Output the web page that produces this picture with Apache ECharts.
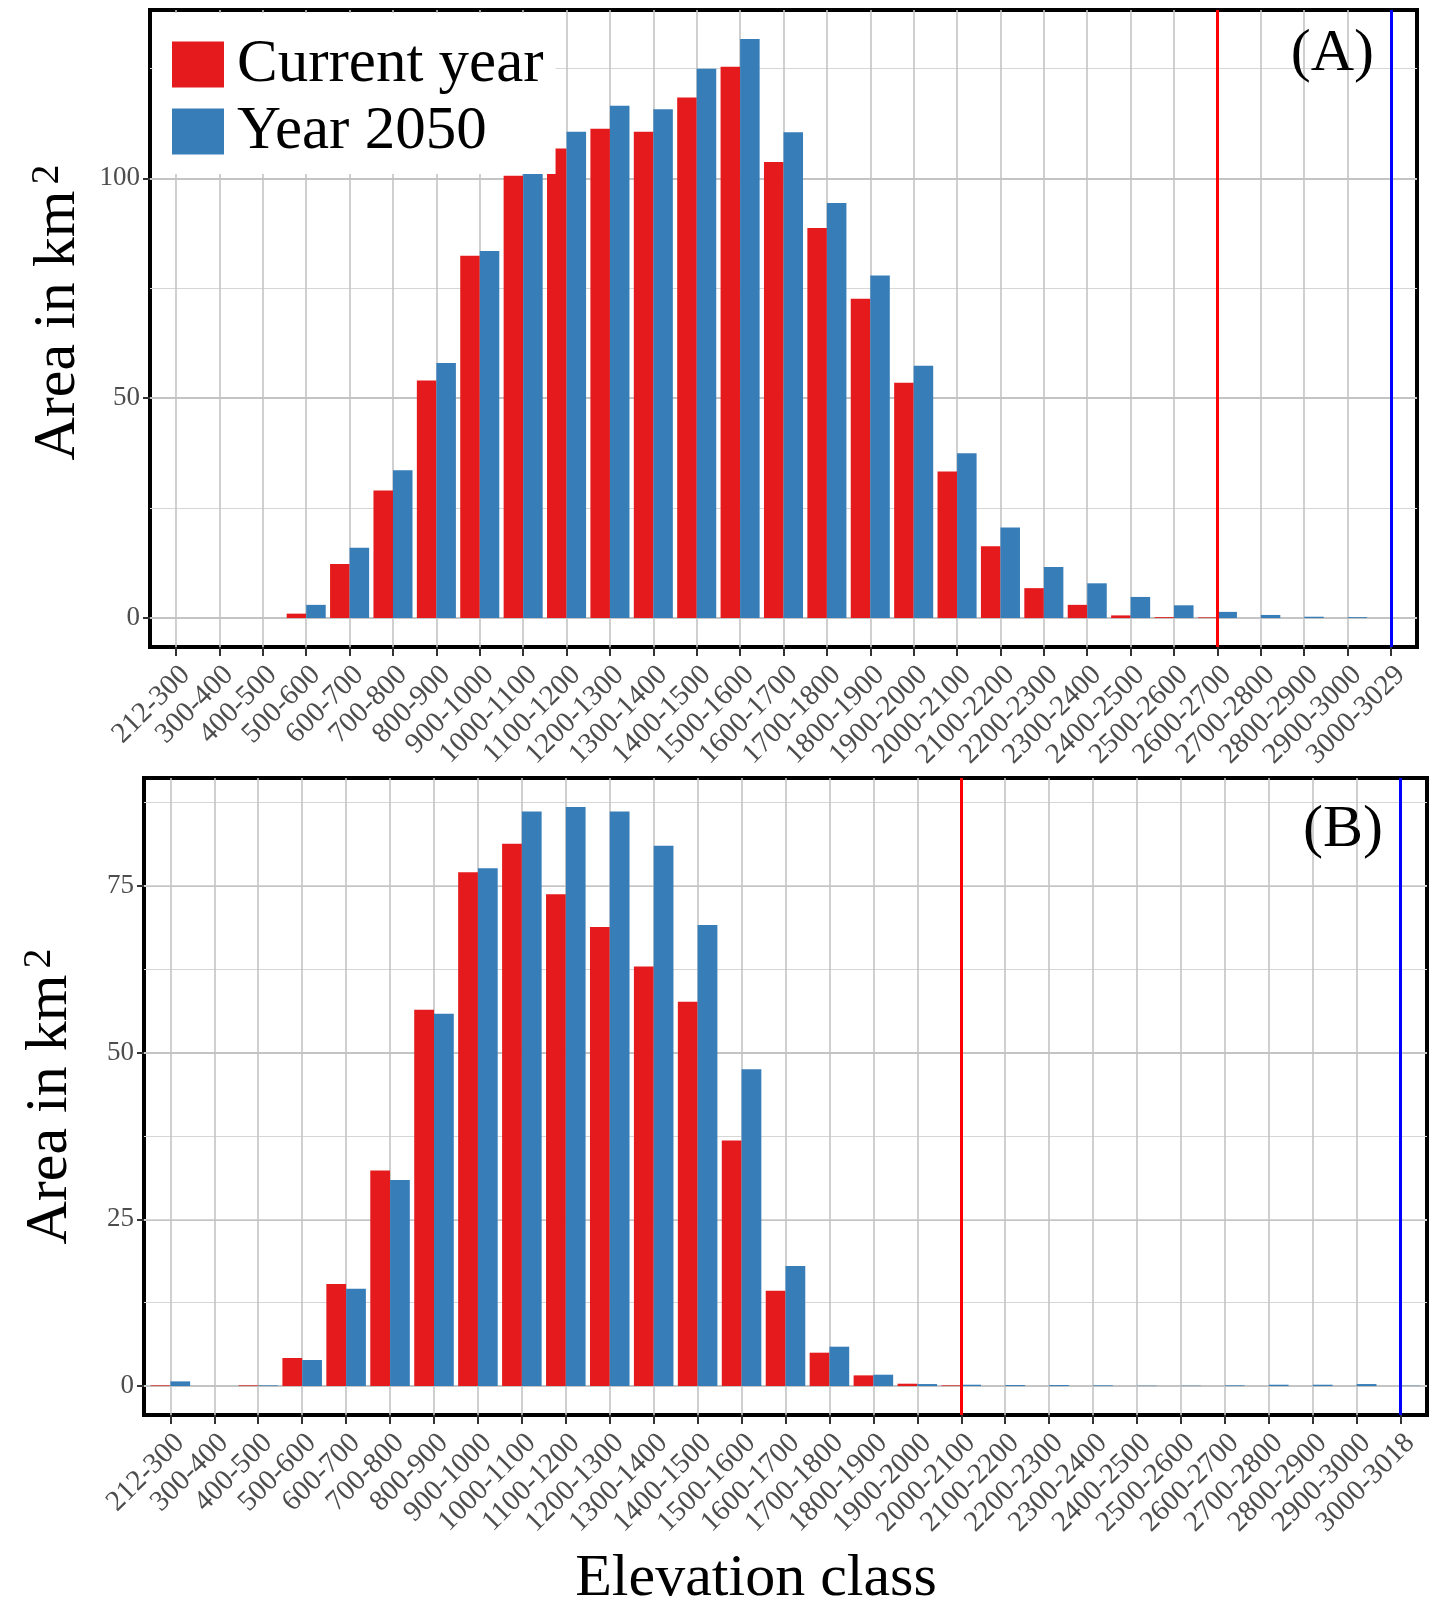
<!DOCTYPE html>
<html><head><meta charset="utf-8">
<script src="https://cdn.jsdelivr.net/npm/echarts@6/dist/echarts.min.js"></script>
<style>html,body{margin:0;padding:0;background:#fff;overflow:hidden}#c{width:1432px;height:1604px}</style>
</head><body><div id="c"></div>
<script>
// ---------- data ----------
const categoriesA = ['212-300','300-400','400-500','500-600','600-700','700-800','800-900','900-1000','1000-1100','1100-1200','1200-1300','1300-1400','1400-1500','1500-1600','1600-1700','1700-1800','1800-1900','1900-2000','2000-2100','2100-2200','2200-2300','2300-2400','2400-2500','2500-2600','2600-2700','2700-2800','2800-2900','2900-3000','3000-3029'];
const currentA    = [0,0,0,1.0,12.3,29.0,54.0,82.4,100.6,106.8,111.3,110.6,118.4,125.4,103.7,88.7,72.6,53.5,33.3,16.3,6.8,3.0,0.6,0.2,0.15,0,0,0,0];
const future2050A = [0,0,0,3.0,16.0,33.6,58.0,83.5,101.7,110.6,116.5,115.7,124.9,131.7,110.5,94.4,77.9,57.4,37.5,20.6,11.6,7.9,4.8,2.9,1.4,0.7,0.3,0.2,0];

const categoriesB = ['212-300','300-400','400-500','500-600','600-700','700-800','800-900','900-1000','1000-1100','1100-1200','1200-1300','1300-1400','1400-1500','1500-1600','1600-1700','1700-1800','1800-1900','1900-2000','2000-2100','2100-2200','2200-2300','2300-2400','2400-2500','2500-2600','2600-2700','2700-2800','2800-2900','2900-3000','3000-3018'];
const currentB    = [0.1,0,0.1,4.2,15.3,32.3,56.4,77.0,81.3,73.7,68.8,62.9,57.6,36.8,14.3,5.0,1.6,0.35,0.1,0,0,0,0,0,0,0,0,0,0];
const future2050B = [0.7,0,0.1,3.9,14.6,30.9,55.8,77.6,86.1,86.8,86.1,81.0,69.1,47.5,18.0,5.9,1.7,0.3,0.2,0.15,0.15,0.1,0.05,0.05,0.1,0.2,0.2,0.3,0.05];

const yTicksA = [0, 50, 100];
const yTicksB = [0, 25, 50, 75];
const refLinesA = { current: '2600-2700', future: '3000-3029' };
const refLinesB = { current: '2000-2100', future: '3000-3018' };
const seriesNames = ['Current year', 'Year 2050'];
const yTitle = '{t|Area in km}{s|2}';
const xTitle = 'Elevation class';

// ---------- style ----------
const FONT = '"Liberation Serif", "Times New Roman", serif';
const RED = '#E41A1C', BLUE = '#377EB8';
const GRID_MAJOR = '#c4c4c4', GRID_MINOR = '#d6d6d6';

function xAxisFor(idx, cats) {
  const ticks = cats.map((_, i) => i);
  return {
    type: 'value', gridIndex: idx, min: -0.6, max: cats.length - 1 + 0.6,
    axisLine: { show: false, onZero: false },
    axisTick: { show: true, customValues: ticks, length: 9, lineStyle: { color: '#333', width: 2 } },
    axisLabel: { customValues: ticks, formatter: v => cats[Math.round(v)] || '', rotate: 45, margin: 14,
                 verticalAlign: 'top', lineHeight: 27,
                 fontFamily: FONT, fontSize: 29, color: '#4d4d4d' },
    splitLine: { show: true, lineStyle: { color: GRID_MAJOR, width: 1.6 } },
    minorTick: { show: false }, minorSplitLine: { show: false }
  };
}
function yAxisFor(idx, ticks, dataMax, splitNumber, minorSplit, nameGap, namePadLeft) {
  return {
    type: 'value', gridIndex: idx, min: -0.05 * dataMax, max: 1.05 * dataMax, splitNumber: splitNumber,
    axisLine: { show: false, onZero: false },
    axisTick: { show: true, customValues: ticks, length: 7, lineStyle: { color: '#333', width: 2 } },
    axisLabel: { customValues: ticks, margin: 10, fontFamily: FONT, fontSize: 27, color: '#4d4d4d' },
    splitLine: { show: true, lineStyle: { color: GRID_MAJOR, width: 1.8 } },
    minorTick: { show: false, splitNumber: minorSplit },
    minorSplitLine: { show: true, lineStyle: { color: GRID_MINOR, width: 1.2 } },
    name: yTitle, nameLocation: 'middle', nameRotate: 90, nameGap: nameGap,
    nameTextStyle: {
      color: '#000', padding: [0, 0, 0, namePadLeft],
      rich: {
        t: { fontFamily: FONT, fontSize: 60, color: '#000', lineHeight: 62 },
        s: { fontFamily: FONT, fontSize: 40, color: '#000', verticalAlign: 'top', padding: [0, 0, 0, 6] }
      }
    }
  };
}
function refLineSeries(idx, cats, ref) {
  return {
    type: 'line', xAxisIndex: idx, yAxisIndex: idx, data: [], silent: true,
    markLine: {
      silent: true, symbol: ['none', 'none'], label: { show: false }, animation: false,
      lineStyle: { type: 'solid', width: 3 },
      data: [
        { xAxis: cats.indexOf(ref.current), lineStyle: { color: '#ff0000', type: 'solid', width: 3 } },
        { xAxis: cats.indexOf(ref.future), lineStyle: { color: '#0000ff', type: 'solid', width: 3 } }
      ]
    }
  };
}
function barSeries(name, color, values, idx) {
  return {
    name: name, type: 'bar', xAxisIndex: idx, yAxisIndex: idx,
    data: values.map((v, i) => [i, v]),
    itemStyle: { color: color }, barGap: '0%', barCategoryGap: '10%'
  };
}

const maxA = Math.max(...currentA, ...future2050A);
const maxB = Math.max(...currentB, ...future2050B);

const option = {
  animation: false,
  backgroundColor: '#fff',
  grid: [
    { left: 150, right: 15, top: 10, bottom: 957, show: true, borderColor: '#000', borderWidth: 4, backgroundColor: '#fff' },
    { left: 144, right: 5, top: 778, bottom: 189, show: true, borderColor: '#000', borderWidth: 4, backgroundColor: '#fff' }
  ],
  xAxis: [xAxisFor(0, categoriesA), xAxisFor(1, categoriesB)],
  yAxis: [yAxisFor(0, yTicksA, maxA, 3, 2, 57, 32), yAxisFor(1, yTicksB, maxB, 2, 4, 63, 0)],
  legend: {
    data: seriesNames, orient: 'vertical', left: 153, top: 13,
    itemWidth: 52, itemHeight: 46, itemGap: 6, icon: 'rect',
    backgroundColor: '#fff', padding: [21, 12, 12, 19], selectedMode: false,
    textStyle: { fontFamily: FONT, fontSize: 61, color: '#000', lineHeight: 52, padding: [0, 0, 0, 8] }
  },
  graphic: [
    { type: 'text', x: 1374, y: 54, z: 100, style: { text: '(A)', align: 'right', verticalAlign: 'middle', font: '60px ' + FONT, fill: '#000' } },
    { type: 'text', x: 1383, y: 830, z: 100, style: { text: '(B)', align: 'right', verticalAlign: 'middle', font: '60px ' + FONT, fill: '#000' } },
    { type: 'text', x: 756, y: 1579, z: 100, style: { text: xTitle, align: 'center', verticalAlign: 'middle', font: '60px ' + FONT, fill: '#000' } }
  ],
  series: [
    barSeries(seriesNames[0], RED, currentA, 0),
    barSeries(seriesNames[1], BLUE, future2050A, 0),
    refLineSeries(0, categoriesA, refLinesA),
    barSeries(seriesNames[0], RED, currentB, 1),
    barSeries(seriesNames[1], BLUE, future2050B, 1),
    refLineSeries(1, categoriesB, refLinesB)
  ]
};
const chart = echarts.init(document.getElementById('c'), null, { renderer: 'canvas' });
chart.setOption(option);
</script></body></html>
